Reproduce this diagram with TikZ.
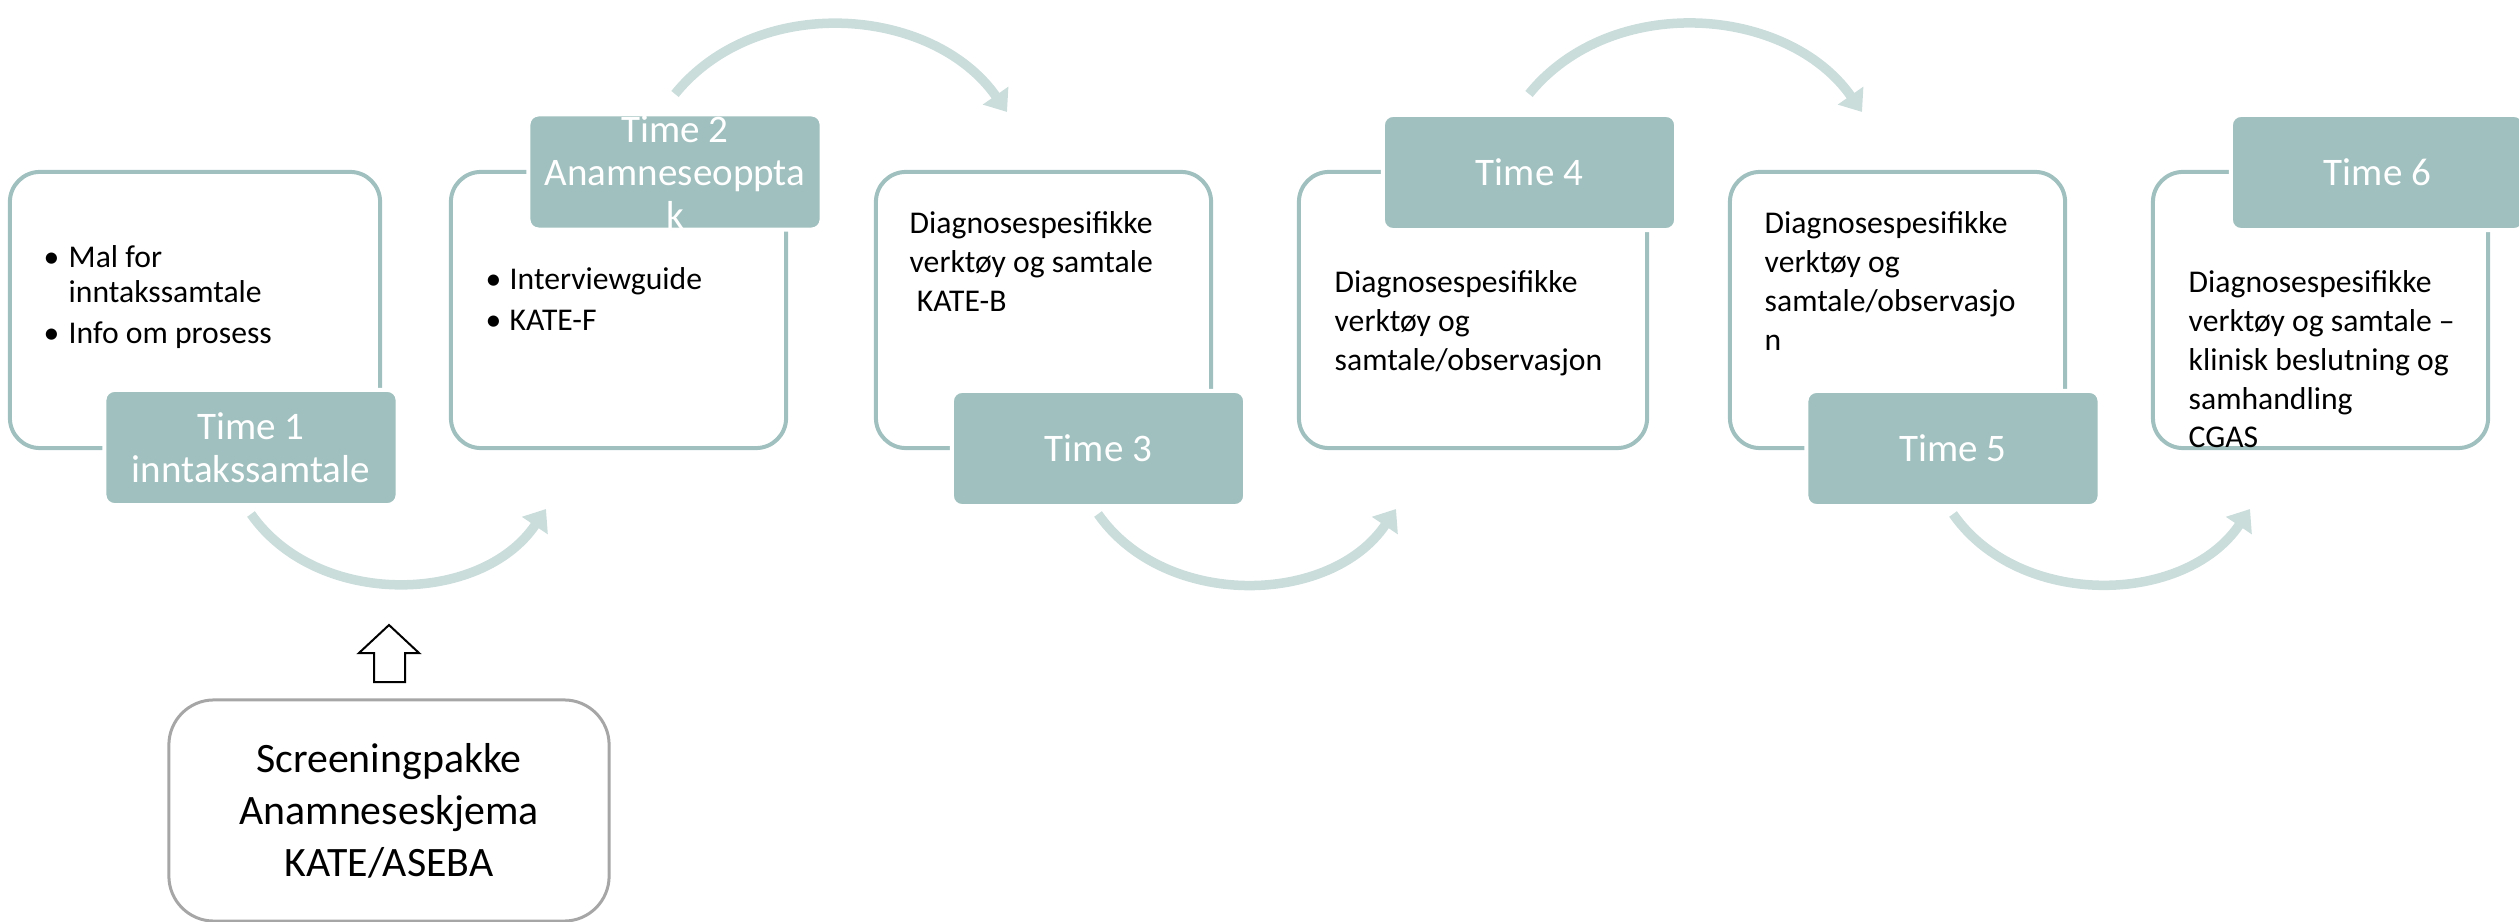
\documentclass[tikz,border=0pt]{standalone}
\usepackage[dvipsnames]{xcolor}
\usepackage{fontspec}
\setmainfont{Carlito}
\usepackage{tikz}
\usetikzlibrary{arrows.meta}

\definecolor{sage}{RGB}{159,192,190}
\definecolor{sagelight}{RGB}{202,221,219}
\definecolor{screengrey}{RGB}{166,166,166}

\tikzset{
  card/.style={draw=sage, line width=.04cm, rounded corners=.3cm, minimum height=2.76cm, inner sep=0},
  timebox/.style={fill=sage, draw=white, line width=.04cm, rounded corners=.1cm,
                  minimum width=2.93cm, minimum height=1.15cm, inner sep=0},
  timetext/.style={text=white, align=center, inner sep=0, font=\fontsize{11.1}{12.2}\selectfont},
  listtext/.style={anchor=base west, inner sep=0, font=\fontsize{9}{9.9}\selectfont},
  plaintext/.style={anchor=base west, inner sep=0, font=\fontsize{9}{11}\selectfont},
  flow/.style={draw=sagelight, line width=.095cm, -{Triangle[length=.2cm,width=.3cm]}},
}

\begin{document}
\begin{tikzpicture}[x=.01cm, y=.01cm]
  \useasboundingbox (0,0) rectangle (2519,-922);

  % cards
  \node[card, minimum width=3.70cm] (b1) at (195,-310) {};
  \node[card, minimum width=3.35cm] (b2) at (618.5,-310) {};
  \node[card, minimum width=3.35cm] (b3) at (1043.5,-310) {};
  \node[card, minimum width=3.48cm] (b4) at (1473,-310) {};
  \node[card, minimum width=3.35cm] (b5) at (1897.5,-310) {};
  \node[card, minimum width=3.35cm] (b6) at (2320.5,-310) {};

  % time labels
  \node[timebox] (t1) at (251,-447.5) {};
  \node[timebox] (t2) at (675,-172) {};
  \node[timebox] (t3) at (1098.5,-448.5) {};
  \node[timebox] (t4) at (1529.5,-172.5) {};
  \node[timebox] (t5) at (1953,-448.5) {};
  \node[timebox] (t6) at (2377.5,-172.5) {};
  \node[timetext] (t1txt) at (t1) {Time 1\\inntakssamtale};
  \node[timetext] (t2txt) at (t2) {Time 2\\Anamneseoppta\\k};
  \node[timetext] (t3txt) at (t3) {Time 3};
  \node[timetext] (t4txt) at (t4) {Time 4};
  \node[timetext] (t5txt) at (t5) {Time 5};
  \node[timetext] (t6txt) at (t6) {Time 6};

  % card texts
  \node[listtext] (b1txt) at (43,-268) {\begin{tabular}[t]{@{}p{.25cm}@{}l@{}}
      \textbullet & Mal for\\
                  & inntakssamtale\\[1.8pt]
      \textbullet & Info om prosess
    \end{tabular}};
  \node[listtext] (b2txt) at (485,-290) {\begin{tabular}[t]{@{}p{.24cm}@{}l@{}}
      \textbullet & Interviewguide\\[1.5pt]
      \textbullet & KATE-F
    \end{tabular}};
  \node[plaintext] (b3txt) at (909,-234) {\begin{tabular}[t]{@{}l@{}}
      Diagnosespesifikke\\ verktøy og samtale\\ \ KATE-B
    \end{tabular}};
  \node[plaintext] (b4txt) at (1334,-293) {\begin{tabular}[t]{@{}l@{}}
      Diagnosespesifikke\\ verktøy og\\ samtale/observasjon
    \end{tabular}};
  \node[plaintext] (b5txt) at (1764,-234) {\begin{tabular}[t]{@{}l@{}}
      Diagnosespesifikke\\ verktøy og\\ samtale/observasjo\\ n
    \end{tabular}};
  \node[plaintext] (b6txt) at (2188,-293) {\begin{tabular}[t]{@{}l@{}}
      Diagnosespesifikke\\ verktøy og samtale –\\ klinisk beslutning og\\ samhandling\\ CGAS
    \end{tabular}};

  % curved arrows
  \coordinate (a1s) at (251,-514);  \coordinate (a1e) at (546,-509);
  \coordinate (a2s) at (675,-94);   \coordinate (a2e) at (1007,-112);
  \coordinate (a3s) at (1098,-514); \coordinate (a3e) at (1396,-509);
  \coordinate (a4s) at (1529,-94);  \coordinate (a4e) at (1862,-112);
  \coordinate (a5s) at (1953,-514); \coordinate (a5e) at (2250,-509);
  \draw[flow] (a1s) to[out=-55, in=-124] (a1e);
  \draw[flow] (a2s) to[out=51, in=125] (a2e);
  \draw[flow] (a3s) to[out=-55, in=-124] (a3e);
  \draw[flow] (a4s) to[out=51, in=125] (a4e);
  \draw[flow] (a5s) to[out=-55, in=-124] (a5e);

  % screening
  \node[draw=screengrey, line width=.03cm, rounded corners=.45cm, minimum width=4.40cm,
        minimum height=2.21cm, align=center, font=\fontsize{11.9}{14.8}\selectfont] (scr)
        at (389,-810.5) {Screeningpakke\\Anamneseskjema\\KATE/ASEBA};
  \draw[line width=.02cm] (389,-625) -- (419,-653) -- (405,-653) -- (405,-682)
        -- (374,-682) -- (374,-653) -- (359,-653) -- cycle;
\end{tikzpicture}
\end{document}
